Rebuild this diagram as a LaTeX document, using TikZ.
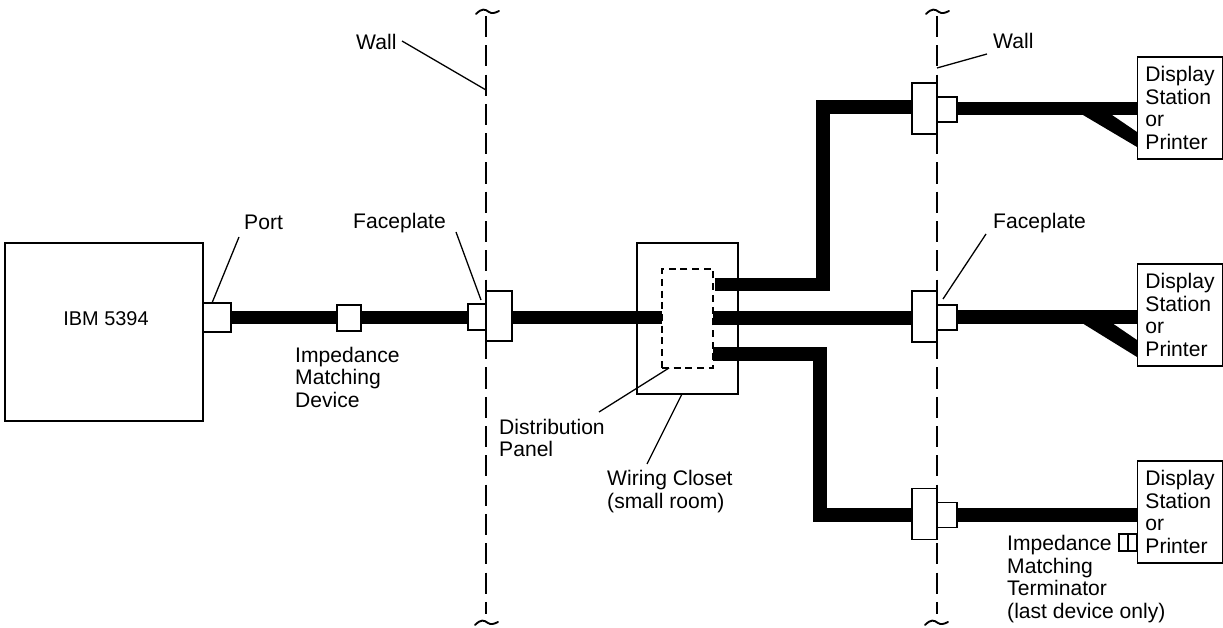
\documentclass[tikz,border=0pt]{standalone}
\usepackage{fontspec}
\setmainfont{Liberation Sans}
\tikzset{
  unit/.style={draw=black,fill=white,line width=1.4pt,inner sep=0pt},
  cable/.style={line width=11.9pt,black},
  leader/.style={line width=1.1pt,black},
  wall/.style={line width=1.3pt,black,dash pattern=on 18pt off 7pt},
  tilde/.style={line width=1.6pt,black,line cap=round},
  caption/.style={anchor=west,align=left,inner sep=0pt},
}
\begin{document}
\begin{tikzpicture}[font=\fontsize{18}{19.2}\selectfont,line join=miter,x=0.03cm,y=-0.03cm]
\useasboundingbox (0,0) rectangle (1223,628);
% cable ends that are not on a unit
\coordinate (panelW) at (662,317.5);
\coordinate (panelA) at (715,284.5);
\coordinate (panelB) at (713,318);
\coordinate (panelC) at (713,354);
\coordinate (bendA) at (823,107);
\coordinate (bendC) at (820,515);
% wiring closet goes under the cables
\node[unit,minimum width=3.03cm,minimum height=4.53cm] (closet) at (687.5,318.5) {};
% cables
\draw[cable] (231,317.5) -- (468,317.5);
\draw[cable] (512,317.5) -- (panelW);
\draw[cable] (panelA) -| (bendA) -- (912,107);
\draw[cable] (panelB) -- (912,318);
\draw[cable] (panelC) -| (bendC) -- (912,515);
\draw[cable] (957,108.5) -- (1137,108.5);
\draw[cable] (957,317) -- (1137,317);
\draw[cable] (957,515) -- (1137,515);
% tails to the stations
\fill (1083,115) -- (1137,147) -- (1137,132) -- (1112,115) -- cycle;
\fill (1082,323) -- (1137,357) -- (1137,340) -- (1112,323) -- cycle;
% units
\node[unit,minimum width=5.94cm,minimum height=5.34cm] (host) at (104,332) {};
\node[unit,minimum width=0.84cm,minimum height=0.87cm] (port) at (217,317.5) {};
\node[unit,minimum width=0.72cm,minimum height=0.78cm] (imd) at (349,318) {};
\node[unit,minimum width=0.54cm,minimum height=0.78cm] (plateL) at (477,317) {};
\node[unit,minimum width=0.78cm,minimum height=1.50cm] (plateR) at (499,316) {};
\node[draw=black,line width=1.4pt,dash pattern=on 6pt off 4pt,inner sep=0pt,minimum width=1.53cm,minimum height=2.97cm] (panel) at (687.5,318.5) {};
\foreach \name/\yy in {A/108.5,B/316.5,C/514}{
  \node[unit,minimum width=0.75cm,minimum height=1.53cm] (plate\name) at (924.5,\yy) {};
  \node[unit,minimum width=0.60cm,minimum height=0.75cm] (jack\name) at (947,\yy+1) {};
}
\node[unit,minimum width=2.55cm,minimum height=3.06cm,align=left] (stationA) at (1180,108) {Display\\Station\\or\\Printer};
\node[unit,minimum width=2.55cm,minimum height=3.06cm,align=left] (stationB) at (1180,315) {Display\\Station\\or\\Printer};
\node[unit,minimum width=2.55cm,minimum height=3.06cm,align=left] (stationC) at (1180,512) {Display\\Station\\or\\Printer};
\node[unit,minimum width=0.54cm,minimum height=0.51cm] (term) at (1128,542.5) {};
\draw[line width=1.2pt] (term.north) -- (term.south);
% walls
\coordinate (wallLtop) at (486,16);
\coordinate (wallLend) at (486,614);
\coordinate (wallRtop) at (937,16);
\coordinate (wallRend) at (937,614);
\draw[wall] (wallLtop) -- (wallLend);
\draw[wall] (wallRtop) -- (wallRend);
\draw[tilde] (476,14) .. controls (482,8) and (485,9) .. (489,12) .. controls (492,14) and (495,13) .. (499,11);
\draw[tilde] (926,14) .. controls (932,8) and (935,9) .. (939,12) .. controls (942,14) and (945,13) .. (949,11);
\draw[tilde] (475,625) .. controls (481,619) and (484,620) .. (488,623) .. controls (491,625) and (494,624) .. (498,622);
\draw[tilde] (925,625) .. controls (931,619) and (934,620) .. (938,623) .. controls (941,625) and (944,624) .. (948,622);
% labels
\node[inner sep=0pt,font=\fontsize{17}{19.2}\selectfont] (hostlabel) at (106,319) {IBM 5394};
\node[caption] (wallA) at (356,42) {Wall};
\node[caption] (wallB) at (993,41) {Wall};
\node[caption] (portlabel) at (244,222) {Port};
\node[caption] (faceA) at (353,223) {Faceplate};
\node[caption] (faceB) at (993,223) {Faceplate};
\node[caption] (imdlabel) at (295,377) {Impedance\\Matching\\Device};
\node[caption] (dist) at (499,438) {Distribution\\Panel};
\node[caption] (wiring) at (607,491.5) {Wiring Closet\\(small room)};
\node[caption] (termlabel) at (1007,579) {Impedance\\Matching\\Terminator\\(last device only)};
% leaders
\coordinate (hitA) at (486,90);
\coordinate (hitB) at (937,68);
\coordinate (hitP) at (669,368);
\coordinate (startA) at (402,41);
\coordinate (startB) at (987,54);
\coordinate (startP) at (239,237);
\coordinate (startF) at (456,232);
\coordinate (startG) at (986,234);
\coordinate (hitF) at (481,300);
\coordinate (hitG) at (943,299);
\coordinate (hitQ) at (212,303);
\coordinate (startD) at (599,412);
\coordinate (hitW) at (682,394);
\coordinate (startW) at (647,464);
\draw[leader] (startA) -- (hitA);
\draw[leader] (startB) -- (hitB);
\draw[leader] (startP) -- (hitQ);
\draw[leader] (startF) -- (hitF);
\draw[leader] (startG) -- (hitG);
\draw[leader] (hitP) -- (startD);
\draw[leader] (hitW) -- (startW);
\end{tikzpicture}
\end{document}
